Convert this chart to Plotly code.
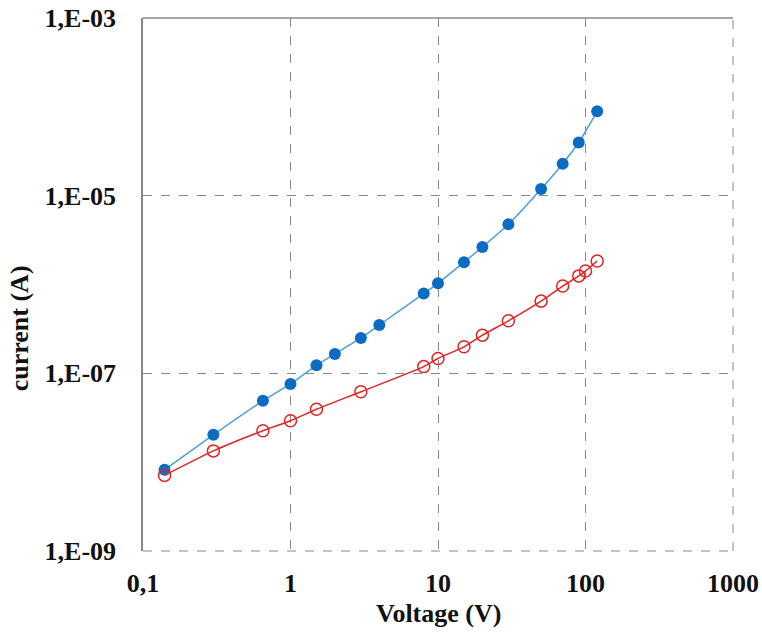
import plotly.graph_objects as go

# Data
v_blue = [0.14, 0.3, 0.65, 1, 1.5, 2, 3, 4, 8, 10, 15, 20, 30, 50, 70, 90, 120]
i_blue = [8.2e-9, 2.03e-8, 4.9e-8, 7.6e-8, 1.23e-7, 1.65e-7, 2.5e-7, 3.5e-7,
          7.9e-7, 1.03e-6, 1.78e-6, 2.64e-6, 4.76e-6, 1.19e-5, 2.29e-5, 3.97e-5, 8.9e-5]

v_red = [0.14, 0.3, 0.65, 1, 1.5, 3, 8, 10, 15, 20, 30, 50, 70, 90, 100, 120]
i_red = [7.1e-9, 1.34e-8, 2.26e-8, 2.93e-8, 3.94e-8, 6.2e-8, 1.19e-7, 1.47e-7,
         1.99e-7, 2.69e-7, 3.9e-7, 6.5e-7, 9.6e-7, 1.25e-6, 1.42e-6, 1.84e-6]

x_ticks = [0.1, 1, 10, 100, 1000]
x_labels = ["0,1", "1", "10", "100", "1000"]
y_ticks = [1e-9, 1e-7, 1e-5, 1e-3]
y_labels = ["1,E-09", "1,E-07", "1,E-05", "1,E-03"]

fig = go.Figure()
fig.add_trace(go.Scatter(
    x=v_blue, y=i_blue, mode="lines+markers",
    line=dict(color="#4d9fd8", width=1.5, shape="spline", smoothing=0.6),
    marker=dict(symbol="circle", size=12, color="#0c6cc4", line=dict(width=0)),
    showlegend=False))
fig.add_trace(go.Scatter(
    x=v_red, y=i_red, mode="lines+markers",
    line=dict(color="#e02424", width=1.5, shape="spline", smoothing=0.6),
    marker=dict(symbol="circle-open", size=12, color="#e02424", line=dict(width=1.5)),
    showlegend=False))

font_family = "Liberation Serif"
txt = "#111111"
fig.update_layout(
    width=762, height=633,
    margin=dict(l=143, r=29, t=18, b=82),
    plot_bgcolor="white", paper_bgcolor="white",
    font=dict(family=font_family, color=txt),
    xaxis=dict(type="log", range=[-1, 3], tickvals=x_ticks,
               ticktext=["<b>%s</b>" % t for t in x_labels],
               showgrid=True, gridcolor="#888888", griddash="dash", gridwidth=1,
               showline=False, ticks="", zeroline=False, ticklabelstandoff=14,
               automargin=False,
               tickfont=dict(family=font_family, size=26, color=txt)),
    yaxis=dict(type="log", range=[-9, -3], tickvals=y_ticks,
               ticktext=["<b>%s</b>" % t for t in y_labels],
               showgrid=True, gridcolor="#888888", griddash="dash", gridwidth=1,
               showline=True, linecolor="#888888", linewidth=1.5, ticks="",
               zeroline=False, ticklabelstandoff=20, automargin=False,
               tickfont=dict(family=font_family, size=26, color=txt)),
    annotations=[
        dict(text="<b>Voltage (V)</b>", xref="paper", yref="paper",
             x=0.5, y=-0.118, xanchor="center", yanchor="middle", showarrow=False,
             font=dict(family=font_family, size=26, color=txt)),
        dict(text="<b>current (A)</b>", xref="paper", yref="paper",
             x=-0.21, y=0.418, xanchor="center", yanchor="middle", showarrow=False,
             textangle=-90, font=dict(family=font_family, size=26, color=txt)),
    ],
    shapes=[dict(type="line", xref="paper", yref="paper", x0=0, x1=1, y0=1, y1=1,
                 line=dict(color="#888888", width=1.5)),
            dict(type="line", xref="paper", yref="paper", x0=0, x1=1, y0=0, y1=0,
                 line=dict(color="#888888", width=1, dash="dash")),
            dict(type="line", xref="paper", yref="paper", x0=1, x1=1, y0=0, y1=1,
                 line=dict(color="#888888", width=1, dash="dash"))],
)

fig.write_html("out.html", config={"displayModeBar": False},
               post_script="document.body.style.margin='0';document.body.style.overflow='hidden';")
